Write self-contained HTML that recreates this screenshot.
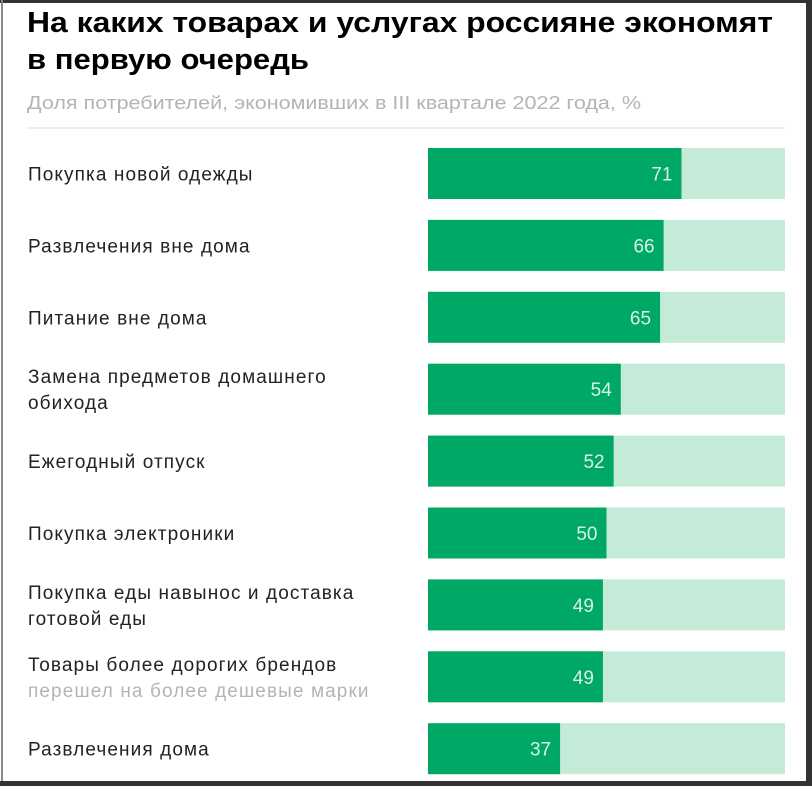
<!DOCTYPE html>
<html><head><meta charset="utf-8"><style>
html,body{margin:0;padding:0;background:#fff;}
svg{display:block;font-family:"Liberation Sans",sans-serif;}
</style></head><body>
<svg id="chart" width="812" height="786" viewBox="0 0 812 786" xmlns="http://www.w3.org/2000/svg">
<rect x="0" y="0" width="812" height="786" fill="#fff"/>
<rect x="0" y="0" width="812" height="3" fill="#333"/>
<rect x="1" y="0" width="2" height="786" fill="#888"/>
<rect x="806" y="0" width="6" height="786" fill="#333"/>
<rect x="0" y="781" width="812" height="5" fill="#333"/>
<text x="27" y="32" font-size="29" font-weight="bold" fill="#000" textLength="746" lengthAdjust="spacingAndGlyphs">На каких товарах и услугах россияне экономят</text>
<text x="27" y="69" font-size="29" font-weight="bold" fill="#000" textLength="282" lengthAdjust="spacingAndGlyphs">в первую очередь</text>
<text x="27" y="109" font-size="18" fill="#b4b4b4" textLength="614" lengthAdjust="spacingAndGlyphs">Доля потребителей, экономивших в III квартале 2022 года, %</text>
<line x1="27" y1="128" x2="785" y2="128" stroke="#e8e8e8" stroke-width="1.5"/>
<g id="bars"></g>
</svg>
<script>
const labels = [["Покупка новой одежды"],["Развлечения вне дома"],["Питание вне дома"],["Замена предметов домашнего","обихода"],["Ежегодный отпуск"],["Покупка электроники"],["Покупка еды навынос и доставка","готовой еды"],["Товары более дорогих брендов"],["Развлечения дома"]];
const notes = ["","","","","","","","перешел на более дешевые марки",""];
const values = [71,66,65,54,52,50,49,49,37];
const maxValue = 100;

const NS = "http://www.w3.org/2000/svg";
const g = document.getElementById("bars");
const x0 = 428, fullW = 357, top0 = 148, pitch = 71.9, barH = 51;
function xScale(v){ return x0 + v / maxValue * fullW; }
function yRow(i){ return top0 + i * pitch; }
function mk(tag, attrs){ const e = document.createElementNS(NS, tag); for (const k in attrs) e.setAttribute(k, attrs[k]); return e; }

values.forEach((v, i) => {
  const y = yRow(i);
  const bg = mk("rect", {x: x0, y: y, width: fullW, height: barH, fill: "#c3ebd8"});
  
  
  g.appendChild(bg);
  const bar = mk("rect", {x: x0, y: y, width: xScale(v) - x0, height: barH, fill: "#00a866"});
  
  
  g.appendChild(bar);
  const t = mk("text", {x: xScale(v) - 9, y: y + barH/2 + 7, "text-anchor": "end", "font-size": "19", fill: "#d8f2e4"});
  t.textContent = v;
  
  
  g.appendChild(t);
  const lines = labels[i].slice();
  const hasNote = notes[i] !== "";
  const n = lines.length + (hasNote ? 1 : 0);
  const cy = y + barH/2;
  const startY = cy - (n - 1) * 13 + 7;
  lines.forEach((ln, j) => {
    const l = mk("text", {x: 28, y: startY + j * 26, "font-size": "19", "letter-spacing": "1.1", fill: "#222"});
    l.textContent = ln;
    
    
    g.appendChild(l);
  });
  if (hasNote) {
    const nt = mk("text", {x: 28, y: startY + lines.length * 26, "font-size": "19", "letter-spacing": "1.1", fill: "#b4b4b4"});
    nt.textContent = notes[i];
    
    
    g.appendChild(nt);
  }
});
</script>
</body></html>
